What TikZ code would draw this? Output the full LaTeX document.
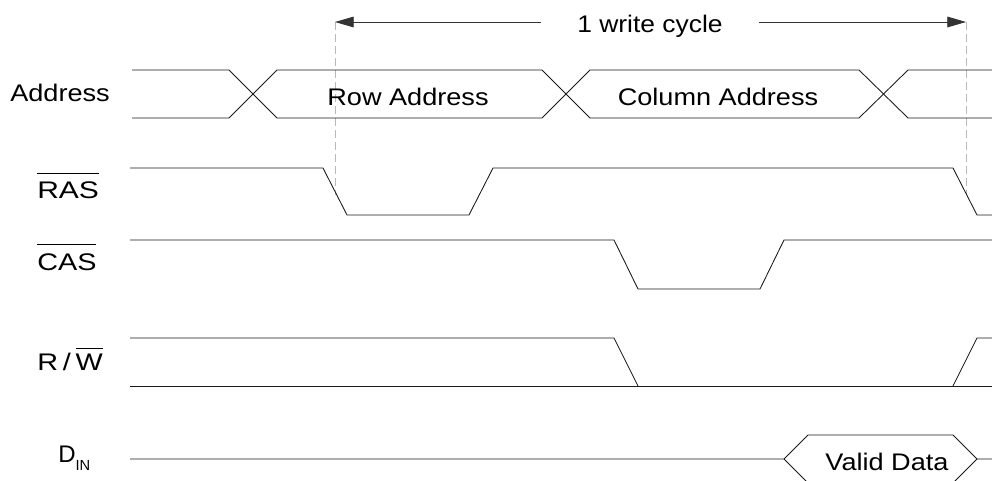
\documentclass[tikz,border=0pt]{standalone}
\usepackage{fontspec}
\setmainfont{Liberation Sans}
\usetikzlibrary{arrows.meta}

\newcommand{\sigfont}{\fontsize{18}{22}\selectfont}
\newcommand{\wide}[2][1.13]{\scalebox{#1}[1]{#2}}
\newcommand{\barred}[2][18pt]{$\overline{\hbox{\rule{0pt}{#1}#2}}$}

\tikzset{
  wave/.style={line width=.65pt,black!90},
  marker/.style={gray!55,line width=.6pt,dash pattern=on 6pt off 3pt},
  span/.style={line width=.6pt,black!80,-{Triangle[length=14pt,width=8pt]}},
  lbl/.style={anchor=base west,inner sep=0pt},
  busl/.style={anchor=base,inner sep=0pt}
}

\begin{document}
\begin{tikzpicture}[x=.75pt,y=-.75pt,font=\sigfont]
\useasboundingbox (0,0) rectangle (992,481);
\clip (0,0) rectangle (992,481);

% cycle markers
\coordinate (lt) at (335,22);
\coordinate (rt) at (966,22);
\draw[marker] (lt) -- (335,195);
\draw[marker] (rt) -- (966,195);
\node[busl,inner xsep=27pt] (cyc) at (650,33) {\wide[1.1]{1 write cycle}};
\draw[span] (cyc.west |- lt) -- (lt);
\draw[span] (cyc.east |- rt) -- (rt);

% signal names
\node[lbl] (addr) at (10,102) {\wide{Address}};
\node[lbl] (ras) at (37,199) {\wide[1.25]{\barred{RAS}}};
\node[lbl] (cas) at (37,270) {\wide[1.2]{\barred{CAS}}};
\node[lbl] (rw) at (37,370) {\wide[1.2]{R\,/\,\barred[15pt]{W}}};
\node[lbl] (din) at (58,462) {D\raisebox{-.35em}{\fontsize{11}{12}\selectfont IN}};

% address bus
\draw[wave] (132,70)--(229,70)--(277,118)--(542,118)--(590,70)--(859,70)--(908,118)--(992,118);
\draw[wave] (132,118)--(229,118)--(277,70)--(542,70)--(590,118)--(859,118)--(908,70)--(992,70);
\node[busl] (row) at (408,106) {\wide{Row Address}};
\node[busl] (col) at (718,106) {\wide{Column Address}};

% strobes
\draw[wave] (130,168)--(323,168)--(347,215)--(469,215)--(493,168)--(953,168)--(977,215)--(992,215);
\draw[wave] (130,240)--(614,240)--(638,289)--(760,289)--(784,240)--(992,240);

% read / write
\draw[wave] (130,338)--(614,338)--(638,386);
\draw[wave] (130,386)--(992,386);
\draw[wave] (953,386)--(977,338)--(992,338);

% data in
\draw[wave] (130,459)--(784,459)--(808,435)--(953,435)--(977,459)--(992,459);
\draw[wave] (784,459)--(808,483);
\draw[wave] (953,483)--(977,459);
\node[busl] (dat) at (887,470) {\wide{Valid Data}};
\end{tikzpicture}
\end{document}
